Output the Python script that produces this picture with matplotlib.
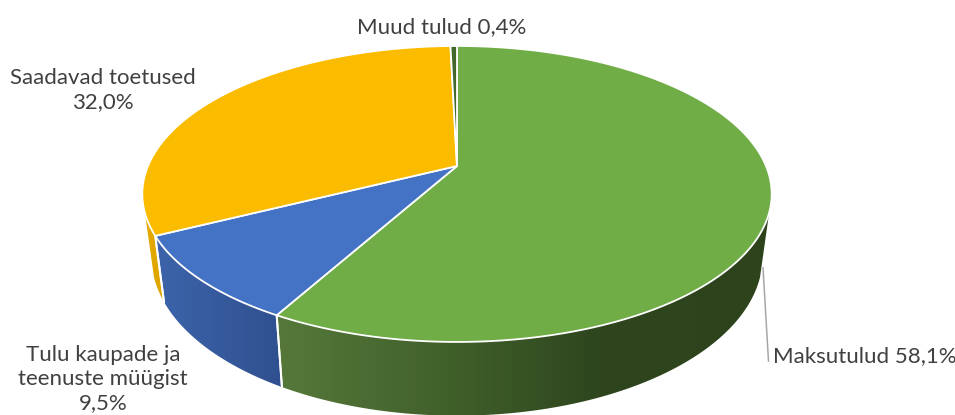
import numpy as np
import matplotlib
matplotlib.use("Agg")
import matplotlib.pyplot as plt
from matplotlib.patches import Polygon
from matplotlib.colors import to_rgb

categories = ["Maksutulud", "Tulu kaupade ja\nteenuste müügist", "Saadavad toetused", "Muud tulud"]
values = [58.1, 9.5, 32.0, 0.4]
top_colors = ["#70AD47", "#4472C4", "#FBBC00", "#43682B"]
# side wall colour stops: (x pixel, colour)
wall_stops = [
    [(283, "#55783A"), (450, "#40602A"), (600, "#2E451D"), (780, "#2D431C")],
    [(160, "#3C63A9"), (283, "#2F508F")],
    [(140, "#E6AC00"), (170, "#DBA300")],
    [(0, "#43682B"), (955, "#43682B")],
]

plt.rcParams['font.family'] = ['Lato', 'DejaVu Sans']
fig = plt.figure(figsize=(9.55, 4.15), dpi=100)
ax = fig.add_axes([0, 0, 1, 1])

CX, K = 457.0, 0.189


def project(t, a, b, cy):
    u, v = np.sin(t), np.cos(t)
    d = 1 + K * v
    return CX + a * u / d, cy - b * v / d


def top(t):
    return project(t, 309.0, 142.7, 166.0)


def bottom(t):
    return project(t, 300.0, 153.0, 227.0)


edges = np.concatenate([[0], np.cumsum(values)]) / np.sum(values) * 2 * np.pi

# leader line
ax.plot([763, 768.5], [268, 361], color="#A6A6A6", lw=1.1, zorder=1)

# side walls, visible between the two silhouette angles
VIS_LO, VIS_HI = np.radians(108), np.radians(252)
for i, stops in enumerate(wall_stops):
    t0, t1 = edges[i], edges[i + 1]
    lo, hi = max(t0, VIS_LO), min(t1, VIS_HI)
    if lo >= hi:
        continue
    ts = np.linspace(lo, hi, 200)
    xt, yt = top(ts)
    xb, yb = bottom(ts)
    poly = Polygon(np.column_stack([np.r_[xt, xb[::-1]], np.r_[yt, yb[::-1]]]),
                   closed=True, facecolor="none", edgecolor="none",
                   transform=ax.transData)
    ax.add_patch(poly)
    xs_s, cs_s = zip(*stops)
    rgb = np.array([to_rgb(c) for c in cs_s])
    cols = np.arange(0, 955) + 0.5
    grad = np.stack([np.interp(cols, xs_s, rgb[:, k]) for k in range(3)], axis=-1)[None, :, :]
    im = ax.imshow(grad, extent=[0, 955, 415, 0], aspect="auto",
                   interpolation="bilinear", zorder=2)
    im.set_clip_path(poly)
    # white separators between walls
    for tb in (t0, t1):
        if np.radians(180) < tb < VIS_HI:
            xa, ya = top(tb)
            xd, yd = bottom(tb)
            ax.plot([xa, xd], [ya, yd], color="white", lw=1.4, zorder=3)

# top surface
for i, c in enumerate(top_colors):
    ts = np.linspace(edges[i], edges[i + 1], 300)
    xs, ys = top(ts)
    pts = np.column_stack([np.r_[CX, xs], np.r_[166.0, ys]])
    ax.add_patch(Polygon(pts, closed=True, facecolor=c, edgecolor="white",
                         lw=1.3, joinstyle="round", zorder=4))

ax.set_xlim(0, 955)
ax.set_ylim(415, 0)
ax.axis("off")

# labels
tc = "#404040"
fs = 16.0
ls = 1.26
ax.text(442, 27, f"{categories[3]} {values[3]:.1f}%".replace(".", ","), color=tc, fontsize=fs,
        ha="center", va="center")
ax.text(103, 90.5, f"{categories[2]}\n{values[2]:.1f}%".replace(".", ","), color=tc, fontsize=fs,
        ha="center", va="center", linespacing=ls)
ax.text(103, 379, f"{categories[1]}\n{values[1]:.1f}%".replace(".", ","), color=tc, fontsize=fs,
        ha="center", va="center", linespacing=ls)
ax.text(773, 356, f"{categories[0]} {values[0]:.1f}%".replace(".", ","), color=tc, fontsize=fs,
        ha="left", va="center")

fig.savefig("out.png", dpi=100)
